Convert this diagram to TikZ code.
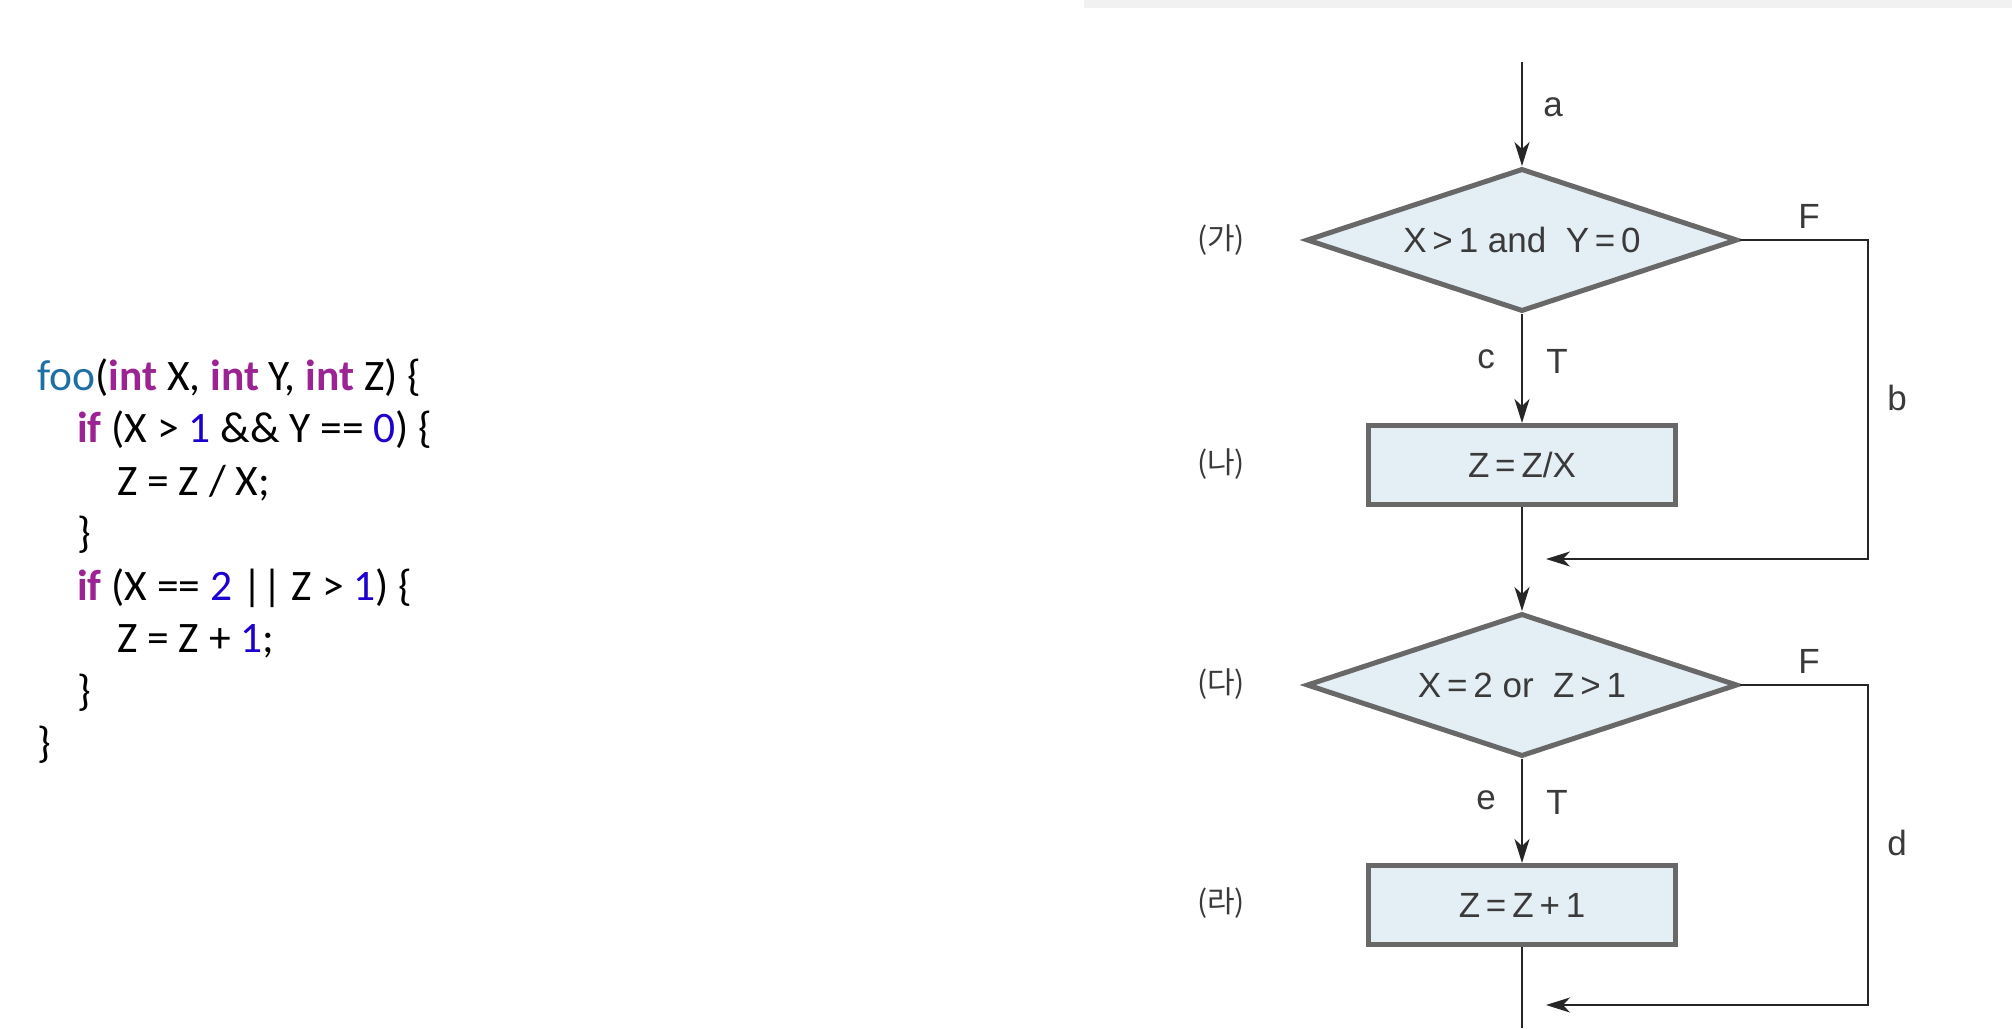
\documentclass[tikz,border=0pt]{standalone}
\usepackage{fontspec}
\setmainfont{Carlito}
\newfontfamily\flowfont{Liberation Sans}
\newfontfamily\krfont{Noto Sans CJK KR}
\usetikzlibrary{shapes.geometric,arrows.meta}
\definecolor{fnblue}{HTML}{1D6FA5}
\definecolor{kwpurple}{HTML}{9C2394}
\definecolor{numblue}{HTML}{1C00CF}
\definecolor{boxfill}{HTML}{E4EEF5}
\definecolor{boxline}{HTML}{686868}
\definecolor{flowtext}{HTML}{3A3A3A}
\definecolor{band}{HTML}{F1F1F1}
\newcommand{\kw}[1]{\textcolor{kwpurple}{\textbf{#1}}}
\newcommand{\nm}[1]{\textcolor{numblue}{#1}}
\begin{document}
\begin{tikzpicture}[x=1pt,y=-1pt,
  codeline/.style={anchor=base west,inner sep=0pt,font=\fontsize{43.5}{52}\selectfont},
  decision/.style={shape=diamond,draw=boxline,line width=5pt,fill=boxfill,minimum width=431pt,minimum height=143pt,inner sep=0pt,aspect=3,font=\flowfont\fontsize{35}{40}\selectfont,text=flowtext},
  process/.style={shape=rectangle,draw=boxline,line width=5pt,fill=boxfill,minimum width=307pt,minimum height=79pt,inner sep=0pt,font=\flowfont\fontsize{35}{40}\selectfont,text=flowtext},
  conn/.style={draw=black!85,line width=2pt},
  arr/.style={conn,-{Stealth[length=24pt,width=15pt,inset=7pt]}},
  lbl/.style={inner sep=0pt,font=\flowfont\fontsize{35}{40}\selectfont,text=flowtext},
  krlbl/.style={inner sep=0pt,font=\krfont\fontsize{30}{35}\selectfont,text=flowtext}
]
\useasboundingbox (0,0) rectangle (2012,1028);
\fill[band] (1084,0) rectangle (2012,8);

% code
\node[codeline] (l1) at (37,390) {\textcolor{fnblue}{foo}(\kw{int} X, \kw{int} Y, \kw{int} Z) \{};
\node[codeline] (l2) at (77,442) {\kw{if} (X > \nm{1} \&\& Y == \nm{0}) \{};
\node[codeline] (l3) at (117,495) {Z = Z / X;};
\node[codeline] (l4) at (77,547) {\}};
\node[codeline] (l5) at (77,600) {\kw{if} (X == \nm{2} || Z > \nm{1}) \{};
\node[codeline] (l6) at (117,652) {Z = Z + \nm{1};};
\node[codeline] (l7) at (77,705) {\}};
\node[codeline] (l8) at (37,757) {\}};

% flowchart
\coordinate (top) at (1522,62);
\node[decision] (d1) at (1522,240) {X\,>\,1 and\ \ Y\,=\,0};
\node[process] (b1) at (1522,465) {Z\,=\,Z/X};
\node[decision] (d2) at (1522,685) {X\,=\,2 or\ \ Z\,>\,1};
\node[process] (b2) at (1522,905) {Z\,=\,Z\,+\,1};
\coordinate (bot) at (1522,1028);
\coordinate (r1) at (1868,559);
\coordinate (j1) at (1546,559);
\coordinate (r2) at (1868,1005);
\coordinate (j2) at (1546,1005);

\draw[arr] (top) -- (d1.north);
\draw[arr] (d1.south) -- (b1.north);
\draw[arr] (b1.south) -- (d2.north);
\draw[arr] (d2.south) -- (b2.north);
\draw[conn] (b2.south) -- (bot);
\draw[arr] (d1.east) -| (r1) -- (j1);
\draw[arr] (d2.east) -| (r2) -- (j2);

\node[lbl] (la) at (1553,107) {a};
\node[lbl] (lf1) at (1809,216) {F};
\node[lbl] (lb) at (1897,398) {b};
\node[lbl] (lc) at (1486,359) {c};
\node[lbl] (lt1) at (1557,361) {T};
\node[lbl] (lf2) at (1809,661) {F};
\node[lbl] (ld) at (1897,843) {d};
\node[lbl] (le) at (1486,800) {e};
\node[lbl] (lt2) at (1557,802) {T};

\node[krlbl] (k1) at (1221,240) {(가)};
\node[krlbl] (k2) at (1221,464) {(나)};
\node[krlbl] (k3) at (1221,684) {(다)};
\node[krlbl] (k4) at (1221,903) {(라)};
\end{tikzpicture}
\end{document}
